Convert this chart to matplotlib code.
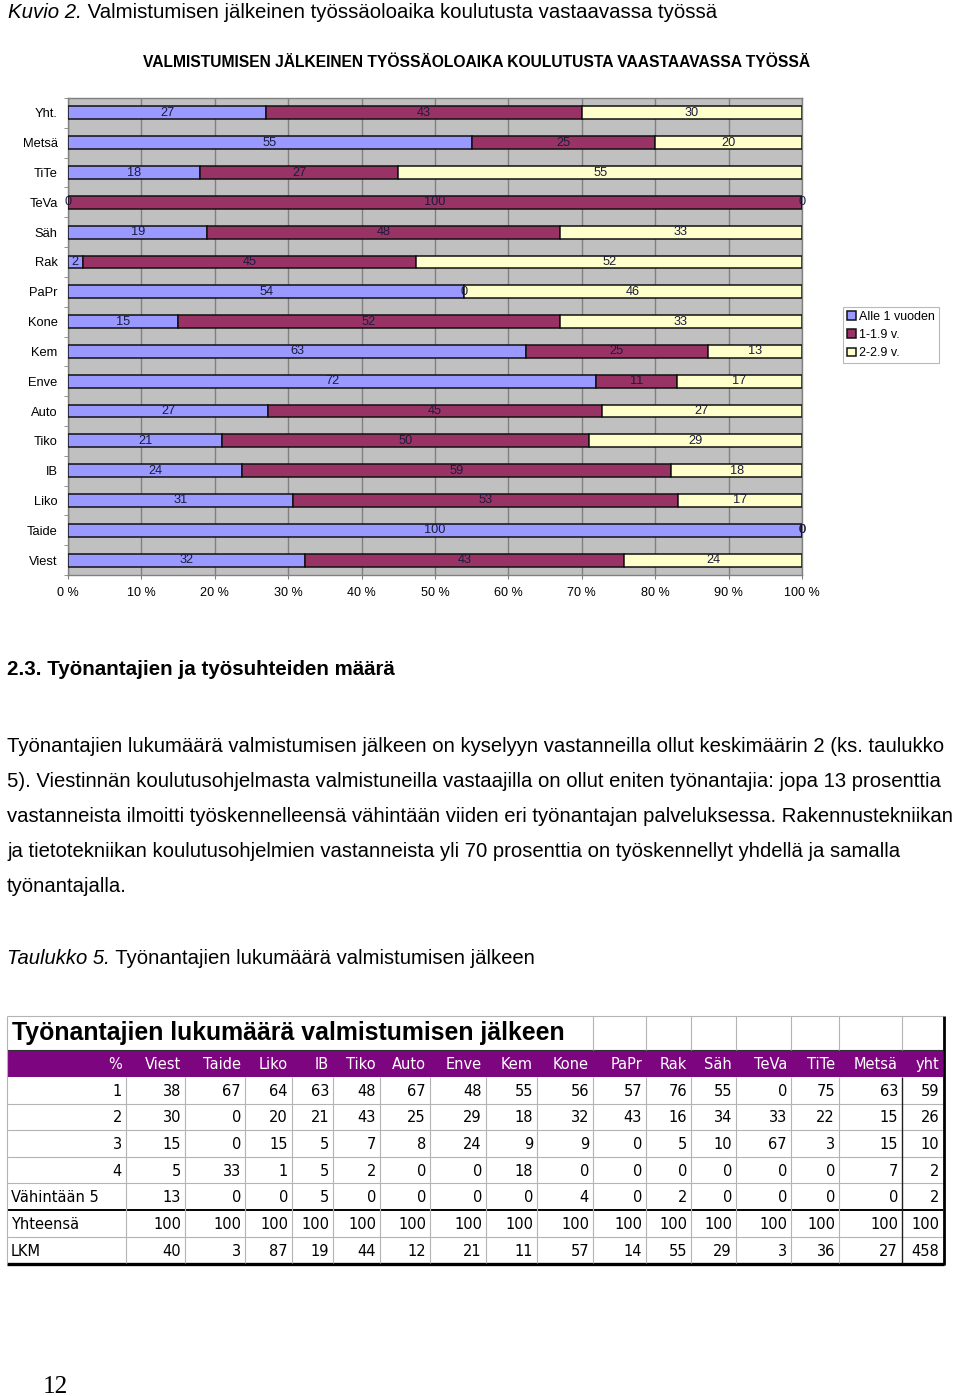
import matplotlib
matplotlib.use('Agg')
import matplotlib.pyplot as plt
import numpy as np

# ---------------- data ----------------
categories = ['Yht.', 'Metsä', 'TiTe', 'TeVa', 'Säh', 'Rak', 'PaPr', 'Kone',
              'Kem', 'Enve', 'Auto', 'Tiko', 'IB', 'Liko', 'Taide', 'Viest']
alle1 = [27, 55, 18, 0, 19, 2, 54, 15, 63, 72, 27, 21, 24, 31, 100, 32]
v1_19 = [43, 25, 27, 100, 48, 45, 0, 52, 25, 11, 45, 50, 59, 53, 0, 43]
v2_29 = [30, 20, 55, 0, 33, 52, 46, 33, 13, 17, 27, 29, 18, 17, 0, 24]
series_names = ['Alle 1 vuoden', '1-1.9 v.', '2-2.9 v.']
x_ticks = [0, 10, 20, 30, 40, 50, 60, 70, 80, 90, 100]
x_ticklabels = ['0 %', '10 %', '20 %', '30 %', '40 %', '50 %', '60 %', '70 %',
                '80 %', '90 %', '100 %']

chart_title = 'VALMISTUMISEN JÄLKEINEN TYÖSSÄOLOAIKA KOULUTUSTA VAASTAAVASSA TYÖSSÄ'
caption_it = 'Kuvio 2.'
caption_rest = ' Valmistumisen jälkeinen työssäoloaika koulutusta vastaavassa työssä'
heading = '2.3. Työnantajien ja työsuhteiden määrä'
para_lines = [
    'Työnantajien lukumäärä valmistumisen jälkeen on kyselyyn vastanneilla ollut keskimäärin 2 (ks. taulukko',
    '5). Viestinnän koulutusohjelmasta valmistuneilla vastaajilla on ollut eniten työnantajia: jopa 13 prosenttia',
    'vastanneista ilmoitti työskennelleensä vähintään viiden eri työnantajan palveluksessa. Rakennustekniikan',
    'ja tietotekniikan koulutusohjelmien vastanneista yli 70 prosenttia on työskennellyt yhdellä ja samalla',
    'työnantajalla.',
]
tab_caption_it = 'Taulukko 5.'
tab_caption_rest = ' Työnantajien lukumäärä valmistumisen jälkeen'
table_title = 'Työnantajien lukumäärä valmistumisen jälkeen'
table_corner = '%'
table_cols = ['Viest', 'Taide', 'Liko', 'IB', 'Tiko', 'Auto', 'Enve', 'Kem', 'Kone',
              'PaPr', 'Rak', 'Säh', 'TeVa', 'TiTe', 'Metsä', 'yht']
table_rows = ['1', '2', '3', '4', 'Vähintään 5', 'Yhteensä', 'LKM']
row_1 = [38, 67, 64, 63, 48, 67, 48, 55, 56, 57, 76, 55, 0, 75, 63, 59]
row_2 = [30, 0, 20, 21, 43, 25, 29, 18, 32, 43, 16, 34, 33, 22, 15, 26]
row_3 = [15, 0, 15, 5, 7, 8, 24, 9, 9, 0, 5, 10, 67, 3, 15, 10]
row_4 = [5, 33, 1, 5, 2, 0, 0, 18, 0, 0, 0, 0, 0, 0, 7, 2]
row_5 = [13, 0, 0, 5, 0, 0, 0, 0, 4, 0, 2, 0, 0, 0, 0, 2]
row_tot = [100, 100, 100, 100, 100, 100, 100, 100, 100, 100, 100, 100, 100, 100, 100, 100]
row_lkm = [40, 3, 87, 19, 44, 12, 21, 11, 57, 14, 55, 29, 3, 36, 27, 458]
page_number = '12'

# ---------------- layout ----------------
W, H = 960, 1396
fig = plt.figure(figsize=(W / 100, H / 100), dpi=100)
fig.patch.set_facecolor('white')
plt.rcParams['font.family'] = ['Liberation Sans', 'DejaVu Sans']

page = fig.add_axes([0, 0, 1, 1])
page.set_xlim(0, W)
page.set_ylim(H, 0)
page.axis('off')
page.patch.set_visible(False)

renderer = fig.canvas.get_renderer()


def tw(t):
    return t.get_window_extent(renderer=renderer).width


def fit(t, target):
    t.set_fontsize(t.get_fontsize() * target / tw(t))
    return t


def mixed(x, y, it, rest, target=None, size=None):
    a = page.text(x, y, it, style='italic', fontsize=12, va='baseline', ha='left')
    b = page.text(x, y, rest, fontsize=12, va='baseline', ha='left')
    if target is not None:
        s = 12 * target / (tw(a) + tw(b))
    else:
        s = size
    a.set_fontsize(s)
    b.set_fontsize(s)
    b.set_x(x + tw(a))
    return s


# caption
mixed(8, 18, caption_it, caption_rest, target=710)

# ---------------- chart ----------------
ax = fig.add_axes([68 / W, 1 - 575 / H, 734 / W, 477 / H])
ax.set_facecolor('#c0c0c0')
colors = ['#9999ff', '#993366', '#ffffcc']
data = np.array([alle1, v1_19, v2_29], dtype=float)
pct = data / data.sum(axis=0) * 100
y = np.arange(len(categories))
left = np.zeros(len(categories))
for vals, p, c, name in zip(data, pct, colors, series_names):
    ax.barh(y, p, left=left, height=0.43, color=c, edgecolor='#111111',
            linewidth=1.1, label=name, zorder=3)
    for yi, l, w, v in zip(y, left, p, vals):
        ax.text(l + w / 2, yi, f'{int(v)}', ha='center', va='center',
                fontsize=9.2, color='#1c1c3c', zorder=4)
    left = left + p

ax.set_xlim(0, 100)
ax.set_ylim(len(categories) - 0.5, -0.5)
ax.set_xticks(x_ticks)
ax.set_xticklabels(x_ticklabels)
ax.xaxis.grid(True, color='#808080', linewidth=1.0)
ax.set_axisbelow(True)
ax.set_yticks(y)
ax.set_yticklabels(categories)
ax.set_yticks(np.arange(-0.5, len(categories)), minor=True)
ax.tick_params(axis='y', which='major', length=0, pad=7.5, labelsize=9.3)
ax.tick_params(axis='y', which='minor', length=3, color='#808080')
ax.tick_params(axis='x', length=3, color='#808080', pad=6, labelsize=9.1)
for s in ax.spines.values():
    s.set_color('#808080')
    s.set_linewidth(1.0)

leg = fig.legend(loc='upper left', bbox_to_anchor=(843 / W, 1 - 307 / H),
                 fontsize=9, frameon=True, fancybox=False, edgecolor='#a8a8a8',
                 handlelength=0.7, handleheight=0.7, handletextpad=0.3,
                 labelspacing=0.5, borderpad=0.3, borderaxespad=0)
leg.get_frame().set_linewidth(0.8)

t = page.text(477, 67, chart_title, fontsize=11, fontweight='bold', ha='center', va='baseline')
fit(t, 666)

# ---------------- text ----------------
h = page.text(7, 675, heading, fontsize=14, fontweight='bold', va='baseline')
fit(h, 387)
p0 = page.text(7, 752, para_lines[0], fontsize=14, va='baseline')
fit(p0, 946)
psize = p0.get_fontsize()
for i, line in enumerate(para_lines[1:], start=1):
    page.text(7, 752 + 35 * i, line, fontsize=psize, va='baseline')
mixed(7, 964, tab_caption_it, tab_caption_rest, size=psize)

# ---------------- table ----------------
col_edges = [7, 126, 185, 245, 292, 333, 380, 430, 486, 537, 593, 646, 691, 736,
             791, 839, 902, 943]
row_edges = [1016, 1050, 1077, 1104, 1130, 1157, 1183, 1210, 1237, 1263]
grid_c = '#b4b4b4'
purple = '#7d0680'

# header band
page.fill_between([col_edges[0], col_edges[-1]], row_edges[1], row_edges[2],
                  color=purple, linewidth=0)
# horizontal grid lines
page.hlines(row_edges[0], col_edges[0], col_edges[-1], color=grid_c, lw=0.8)
for yy in row_edges[3:7] + row_edges[8:9]:
    page.hlines(yy, col_edges[0], col_edges[-1], color=grid_c, lw=0.8)
page.hlines(row_edges[7], col_edges[0], col_edges[-1], color='black', lw=1.4)
page.hlines(row_edges[-1] + 1, col_edges[0], col_edges[-1] + 1, color='black', lw=2.4)
page.hlines(row_edges[1], col_edges[0], col_edges[-1], color='#303030', lw=0.8)
# vertical grid lines
page.vlines(col_edges[0], row_edges[0], row_edges[-1], color=grid_c, lw=0.8)
for xx in col_edges[1:-2]:
    page.vlines(xx, row_edges[2], row_edges[-1], color=grid_c, lw=0.8)
for xx in col_edges[10:-2]:
    page.vlines(xx, row_edges[0], row_edges[1], color=grid_c, lw=0.8)
page.vlines(col_edges[-2], row_edges[2], row_edges[-1], color='#202020', lw=1.0)
page.vlines(col_edges[-2], row_edges[0], row_edges[1], color=grid_c, lw=0.8)
page.vlines(col_edges[-1] + 1, row_edges[0], row_edges[-1] + 2, color='black', lw=2.0)

tt = page.text(12, 1040, table_title, fontsize=16, fontweight='bold', va='baseline')
fit(tt, 554)

cell_font = ['DejaVu Sans']
cs = 10.5
hc = (row_edges[1] + row_edges[2]) / 2 + 1
page.text(col_edges[1] - 4, hc, table_corner, color='white', ha='right', va='center',
          fontsize=cs, family=cell_font)
for j, name in enumerate(table_cols):
    page.text(col_edges[j + 2] - 4, hc, name, color='white', ha='right', va='center',
              fontsize=cs, family=cell_font)

table_values = [row_1, row_2, row_3, row_4, row_5, row_tot, row_lkm]
for i, (rname, vals) in enumerate(zip(table_rows, table_values)):
    yc = (row_edges[i + 2] + row_edges[i + 3]) / 2 + 1
    if rname.isdigit():
        page.text(col_edges[1] - 4, yc, rname, ha='right', va='center', fontsize=cs,
                  family=cell_font)
    else:
        page.text(col_edges[0] + 4, yc, rname, ha='left', va='center', fontsize=cs,
                  family=cell_font)
    for j, v in enumerate(vals):
        page.text(col_edges[j + 2] - 4, yc, str(v), ha='right', va='center',
                  fontsize=cs, family=cell_font)

# page number
pn = page.text(43, 1393, page_number, fontsize=15, family=['Liberation Serif'], va='baseline')
fit(pn, 25)

fig.savefig('out.png', dpi=100)
